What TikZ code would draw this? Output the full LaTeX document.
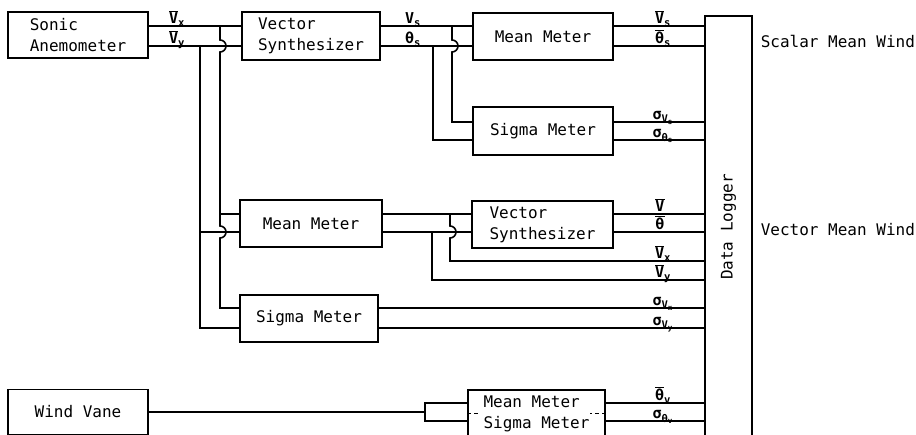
\documentclass[tikz,border=0pt]{standalone}
\usepackage{amsmath}
\usepackage{fontspec}
\setmonofont{DejaVu Sans Mono}
\usetikzlibrary{positioning}

\newcommand{\sg}[1]{\text{\ttfamily\bfseries #1}}

\tikzset{
  blk/.style={rectangle, draw, line width=1.6pt, align=left, inner sep=0pt,
    font=\fontsize{16}{21}\selectfont\ttfamily},
  lbl/.style={anchor=base, yshift=2pt, inner sep=0pt, font=\fontsize{15}{17}\selectfont},
  txt/.style={anchor=west, inner sep=0pt, font=\fontsize{16}{21}\selectfont\ttfamily}
}

\begin{document}
\begin{tikzpicture}[x=1pt,y=-1pt,line width=1.6pt]
\useasboundingbox (0,0) rectangle (916,435);

% blocks
\node (an)  [blk, minimum width=140, minimum height=46] at (78,35) {Sonic\\Anemometer};
\node (vs1) [blk, minimum width=138, minimum height=48] at (311,36) {Vector\\Synthesizer};
\node (mm1) [blk, minimum width=140, minimum height=47] at (543,36.5) {Mean Meter};
\node (sm1) [blk, minimum width=140, minimum height=48] at (543,131) {Sigma Meter};
\node (mm2) [blk, minimum width=142, minimum height=47] at (311,223.5) {Mean Meter};
\node (vs2) [blk, minimum width=141, minimum height=47] at (542.5,224.5) {Vector\\Synthesizer};
\node (sm2) [blk, minimum width=138, minimum height=47] at (309,318.5) {Sigma Meter};
\node (wv)  [blk, minimum width=140, minimum height=45] at (78,412) {Wind Vane};
\node (ms)  [blk, minimum width=137, minimum height=48] at (536.5,414) {Mean Meter\\Sigma Meter};
\node (dl)  [blk, rotate=90, align=center, minimum width=422, minimum height=47] at (728.5,227) {Data Logger};
\node (smw) [txt] at (760,41) {Scalar Mean Wind};
\node (vmw) [txt] at (760,230) {Vector Mean Wind};

\draw[dashed, line width=1pt, dash pattern=on 4pt off 3pt] (ms.west) -- ++(12,0);
\draw[dashed, line width=1pt, dash pattern=on 4pt off 3pt] (ms.east) -- ++(-16,0);

% branch points
\coordinate (bvx) at (220,26);
\coordinate (bvy) at (200,46);
\coordinate (bvs) at (452,26);
\coordinate (bts) at (433,46);
\coordinate (bmx) at (450,214);
\coordinate (bmy) at (432,232);
\coordinate (bwv) at (425,412);

% scalar path
\draw (an.east |- 0,26) -- (vs1.west |- 0,26);
\draw (an.east |- 0,46) -- (vs1.west |- 0,46);
\draw (vs1.east |- 0,26) -- (mm1.west |- 0,26);
\draw (vs1.east |- 0,46) -- (mm1.west |- 0,46);
\draw (bvs) -- (452,40) arc[start angle=90, end angle=-90, radius=6pt] -- (452,122) -- (sm1.west |- 0,122);
\draw (bts) -- (433,140) -- (sm1.west |- 0,140);
\draw (mm1.east |- 0,26) -- (dl.north |- 0,26);
\draw (mm1.east |- 0,46) -- (dl.north |- 0,46);
\draw (sm1.east |- 0,122) -- (dl.north |- 0,122);
\draw (sm1.east |- 0,140) -- (dl.north |- 0,140);

% vector path
\draw (bvx) -- (220,40) arc[start angle=90, end angle=-90, radius=6pt]
  -- (220,226) arc[start angle=90, end angle=-90, radius=6pt] -- (220,308) -- (sm2.west |- 0,308);
\draw (220,214) -- (mm2.west |- 0,214);
\draw (bvy) -- (200,328) -- (sm2.west |- 0,328);
\draw (200,232) -- (mm2.west |- 0,232);
\draw (mm2.east |- 0,214) -- (vs2.west |- 0,214);
\draw (mm2.east |- 0,232) -- (vs2.west |- 0,232);
\draw (bmx) -- (450,226) arc[start angle=90, end angle=-90, radius=6pt] -- (450,261) -- (dl.north |- 0,261);
\draw (bmy) -- (432,280) -- (dl.north |- 0,280);
\draw (vs2.east |- 0,214) -- (dl.north |- 0,214);
\draw (vs2.east |- 0,232) -- (dl.north |- 0,232);
\draw (sm2.east |- 0,308) -- (dl.north |- 0,308);
\draw (sm2.east |- 0,328) -- (dl.north |- 0,328);

% wind vane
\draw (wv.east) -- (bwv);
\draw (ms.west |- 0,403) -- (425,403) -- (425,421) -- (ms.west |- 0,421);
\draw (ms.east |- 0,403) -- (dl.north |- 0,403);
\draw (ms.east |- 0,421) -- (dl.north |- 0,421);

% signal labels
\node (lvx)  [lbl] at (177,26) {$\overline{\sg{V}}_{\sg{x}}$};
\node (lvy)  [lbl] at (177,46) {$\overline{\sg{V}}_{\sg{y}}$};
\node (lvs)  [lbl] at (413,26) {$\sg{V}_{\sg{s}}$};
\node (lts)  [lbl] at (413,46) {$\sg{θ}_{\sg{s}}$};
\node (lmvs) [lbl] at (663,26) {$\overline{\sg{V}}_{\sg{s}}$};
\node (lmts) [lbl] at (663,46) {$\overline{\sg{θ}}_{\sg{s}}$};
\node (lsvs) [lbl] at (663,122) {$\sg{σ}_{\sg{V}_{\sg{s}}}$};
\node (lsts) [lbl] at (663,140) {$\sg{σ}_{\sg{θ}_{\sg{s}}}$};
\node (lv)   [lbl] at (660,214) {$\overline{\sg{V}}$};
\node (lt)   [lbl] at (660,232) {$\overline{\sg{θ}}$};
\node (lmvx) [lbl] at (663,261) {$\overline{\sg{V}}_{\sg{x}}$};
\node (lmvy) [lbl] at (663,280) {$\overline{\sg{V}}_{\sg{y}}$};
\node (lsvx) [lbl] at (663,308) {$\sg{σ}_{\sg{V}_{\sg{x}}}$};
\node (lsvy) [lbl] at (663,328) {$\sg{σ}_{\sg{V}_{\sg{y}}}$};
\node (ltv)  [lbl] at (663,403) {$\overline{\sg{θ}}_{\sg{v}}$};
\node (lstv) [lbl] at (663,421) {$\sg{σ}_{\sg{θ}_{\sg{v}}}$};
\end{tikzpicture}
\end{document}
